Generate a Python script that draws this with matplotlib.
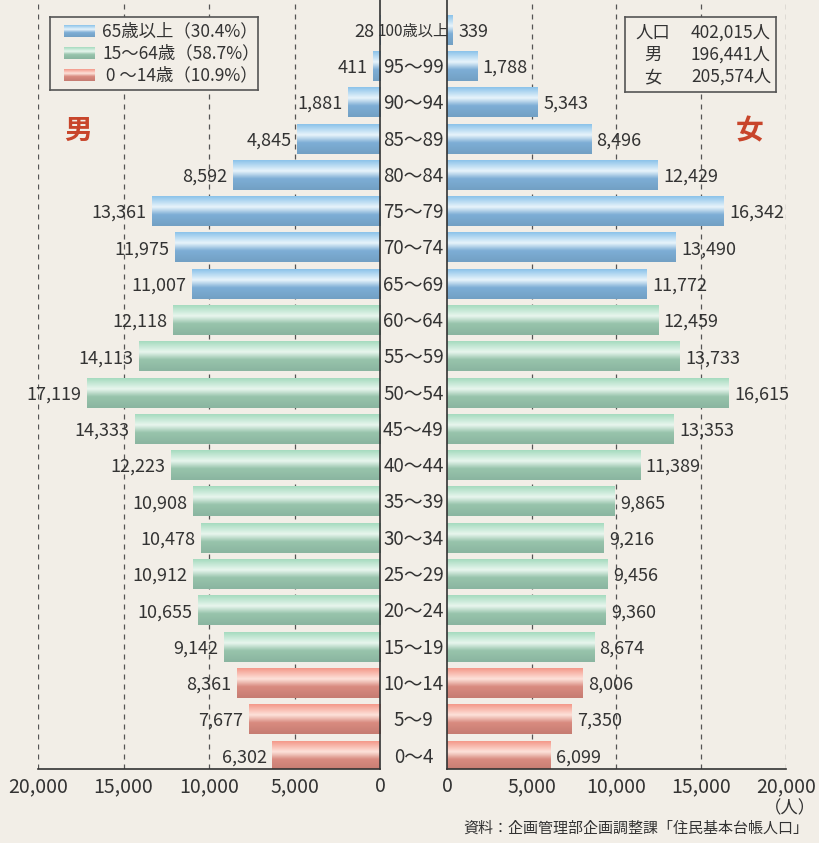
import matplotlib
matplotlib.use("Agg")
import matplotlib.pyplot as plt
import numpy as np
from matplotlib.colors import LinearSegmentedColormap
from matplotlib.transforms import blended_transform_factory

plt.rcParams['font.family'] = ['Noto Sans CJK JP', 'DejaVu Sans']

# データ（下から 0〜4 歳 → 100歳以上）
ages = ["0〜4", "5〜9", "10〜14", "15〜19", "20〜24", "25〜29", "30〜34", "35〜39",
        "40〜44", "45〜49", "50〜54", "55〜59", "60〜64", "65〜69", "70〜74", "75〜79",
        "80〜84", "85〜89", "90〜94", "95〜99", "100歳以上"]
male = [6302, 7677, 8361, 9142, 10655, 10912, 10478, 10908, 12223, 14333, 17119,
        14113, 12118, 11007, 11975, 13361, 8592, 4845, 1881, 411, 28]
female = [6099, 7350, 8006, 8674, 9360, 9456, 9216, 9865, 11389, 13353, 16615,
          13733, 12459, 11772, 13490, 16342, 12429, 8496, 5343, 1788, 339]
group = [0] * 3 + [1] * 10 + [2] * 8   # 0:0〜14, 1:15〜64, 2:65以上
legend_labels = ["65歳以上（30.4%）", "15〜64歳（58.7%）", " 0 〜14歳（10.9%）"]
info_labels = ["人口", "男", "女"]
info_values = ["402,015人", "196,441人", "205,574人"]
ticks = [0, 5000, 10000, 15000, 20000]

bg = "#f2eee7"
txt = "#333333"
# 上端 → ハイライト → 下側の濃い色
stops = {
    0: ["#f4998a", "#fde2da", "#d98b80", "#c67c72"],
    1: ["#a6dbbf", "#e8f6ee", "#98c4ac", "#8ab5a0"],
    2: ["#8cc3ea", "#e8f4fb", "#7eaed6", "#72a0c4"],
}
cmaps = {k: LinearSegmentedColormap.from_list(f"g{k}", list(zip([0, 0.36, 0.62, 1], v)))
         for k, v in stops.items()}
grad = np.linspace(0, 1, 64).reshape(-1, 1)


def gradbar(ax, x0, x1, y0, y1, cmap, z=2):
    ax.imshow(grad, extent=[x0, x1, y0, y1], origin="upper", aspect="auto",
              cmap=cmap, vmin=0, vmax=1, zorder=z, interpolation="bilinear")


W, H = 819, 843
fig = plt.figure(figsize=(W / 100, H / 100), dpi=100, facecolor=bg)
axL = fig.add_axes([38 / W, 1 - 769 / H, 342 / W, 769 / H])
axR = fig.add_axes([447 / W, 1 - 769 / H, 339 / W, 769 / H])

y = np.arange(len(ages))
bh = 0.8
ylim = (-0.36, 20.83)

for ax, vals, side in [(axL, male, "L"), (axR, female, "R")]:
    ax.set_facecolor(bg)
    for yi, v, g in zip(y, vals, group):
        gradbar(ax, 0, v, yi - bh / 2, yi + bh / 2, cmaps[g])
        if side == "L":
            ax.annotate(f"{v:,}", (v, yi), xytext=(-4, -1), textcoords="offset points",
                        ha="right", va="center", fontsize=13, color=txt)
        else:
            ax.annotate(f"{v:,}", (v, yi), xytext=(4, -1), textcoords="offset points",
                        ha="left", va="center", fontsize=13, color=txt)
    for t in ticks[1:]:
        ax.axvline(t, color="#555555", lw=0.9, ls=(0, (4, 4)), zorder=1)
    ax.set_ylim(*ylim)
    ax.set_yticks([])
    ax.set_xticks(ticks)
    ax.set_xticklabels([f"{t:,}" for t in ticks], fontsize=14, color=txt)
    ax.tick_params(axis="x", length=0, pad=5)
    for s in ["top", "left", "right"]:
        ax.spines[s].set_visible(False)
    ax.spines["bottom"].set_color("#333333")
    ax.spines["bottom"].set_linewidth(1.2)
    if side == "L":
        ax.set_xlim(20000, 0)
        ax.spines["right"].set_visible(True)
        ax.spines["right"].set_color("#333333")
        ax.spines["right"].set_linewidth(1.2)
    else:
        ax.set_xlim(0, 20000)
        ax.spines["left"].set_visible(True)
        ax.spines["left"].set_color("#333333")
        ax.spines["left"].set_linewidth(1.2)

# 年齢ラベル（中央）
tr = blended_transform_factory(axL.transAxes, axL.transData)
cx = 1 + (413.5 - 380) / 342
for yi, a in zip(y, ages):
    fs = 11 if len(a) > 5 else 13.5
    axL.text(cx, yi - 0.03, a, transform=tr, ha="center", va="center",
             fontsize=fs, color=txt, clip_on=False)

# 男・女
fig.text(78 / W, 1 - 131 / H, "男", fontsize=20, fontweight="bold", color="#c8452b",
         ha="center", va="center")
fig.text(750 / W, 1 - 131 / H, "女", fontsize=20, fontweight="bold", color="#c8452b",
         ha="center", va="center")

# 凡例
lg = fig.add_axes([50 / W, 1 - 90 / H, 208 / W, 73 / H], zorder=5)
lg.set_facecolor(bg)
lg.set_xticks([])
lg.set_yticks([])
for s in lg.spines.values():
    s.set_color("#555555")
    s.set_linewidth(1.2)
for i, (lab, g) in enumerate(zip(legend_labels, [2, 1, 0])):
    yc = 14 + i * 22
    lg.imshow(grad, extent=[14, 45, yc + 6, yc - 6], origin="upper", aspect="auto",
              cmap=cmaps[g], vmin=0, vmax=1, interpolation="bilinear")
    lg.text(52, yc, lab, ha="left", va="center", fontsize=12.5, color=txt)
lg.set_xlim(0, 208)
lg.set_ylim(73, 0)

# 人口ボックス
ib = fig.add_axes([625 / W, 1 - 92 / H, 151 / W, 75 / H], zorder=5)
ib.set_facecolor(bg)
ib.set_xlim(0, 151)
ib.set_ylim(75, 0)
ib.set_xticks([])
ib.set_yticks([])
for s in ib.spines.values():
    s.set_color("#555555")
    s.set_linewidth(1.2)
for i, (a, b) in enumerate(zip(info_labels, info_values)):
    yc = 16 + i * 22
    ib.text(28, yc, a, ha="center", va="center", fontsize=12.5, color=txt)
    ib.text(146, yc, b, ha="right", va="center", fontsize=12.5, color=txt)

fig.text(790 / W, 1 - 808 / H, "（人）", fontsize=12.5, color=txt, ha="center", va="center")
fig.text(808 / W, 1 - 829 / H, "資料：企画管理部企画調整課「住民基本台帳人口」", fontsize=10.8,
         color=txt, ha="right", va="center")

fig.savefig("out.png", dpi=100, facecolor=bg)
